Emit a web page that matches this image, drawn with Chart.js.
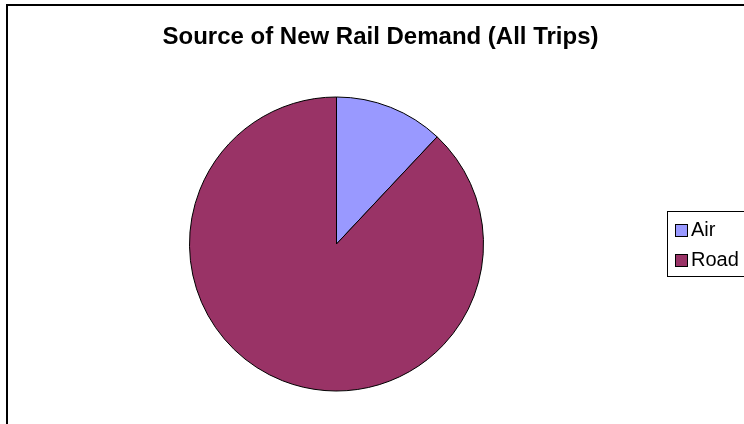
<!DOCTYPE html>
<html>
<head>
<meta charset="utf-8">
<script src="https://cdn.jsdelivr.net/npm/chart.js@4/dist/chart.umd.min.js"></script>
<style>
html,body{margin:0;padding:0;background:#fff;}
#wrap{width:744px;height:424px;position:relative;}
</style>
</head>
<body>
<div id="wrap"><canvas id="c" width="744" height="424"></canvas></div>
<script>
const chartTitle = "Source of New Rail Demand (All Trips)";
const categories = ["Air", "Road"];
const shares = [12, 88];
const sliceColors = ["#9999FF", "#993366"];

const decor = {
  id: 'decor',
  afterDraw(chart) {
    const ctx = chart.ctx;
    ctx.save();
    // outer frame
    ctx.strokeStyle = '#000';
    ctx.lineWidth = 2;
    ctx.strokeRect(7, 5, 800, 500);
    // title
    ctx.fillStyle = '#000';
    ctx.font = 'bold 24px "Liberation Sans", Arial, sans-serif';
    ctx.textAlign = 'center';
    ctx.textBaseline = 'alphabetic';
    ctx.fillText(chartTitle, 380.5, 44);
    // legend
    ctx.lineWidth = 1;
    ctx.strokeRect(667.5, 211.5, 100, 65);
    ctx.font = '20px "Liberation Sans", Arial, sans-serif';
    ctx.textAlign = 'left';
    const labels = chart.data.labels;
    const colors = chart.data.datasets[0].backgroundColor;
    labels.forEach((lab, i) => {
      const by = 224.5 + i * 30;
      ctx.fillStyle = colors[i];
      ctx.fillRect(675.5, by, 12, 12);
      ctx.strokeStyle = '#000';
      ctx.strokeRect(675.5, by, 12, 12);
      ctx.fillStyle = '#000';
      ctx.fillText(lab, 691, 236 + i * 30);
    });
    ctx.restore();
  }
};

new Chart(document.getElementById('c'), {
  type: 'pie',
  data: {
    labels: categories,
    datasets: [{
      data: shares,
      backgroundColor: sliceColors,
      borderColor: '#000',
      borderWidth: 1,
      hoverOffset: 0
    }]
  },
  options: {
    responsive: false,
    animation: false,
    radius: 147,
    layout: { padding: { left: 20, right: 91, top: 97, bottom: 33 } },
    plugins: {
      legend: { display: false },
      title: { display: false },
      tooltip: { enabled: false }
    }
  },
  plugins: [decor]
});
</script>
</body>
</html>
